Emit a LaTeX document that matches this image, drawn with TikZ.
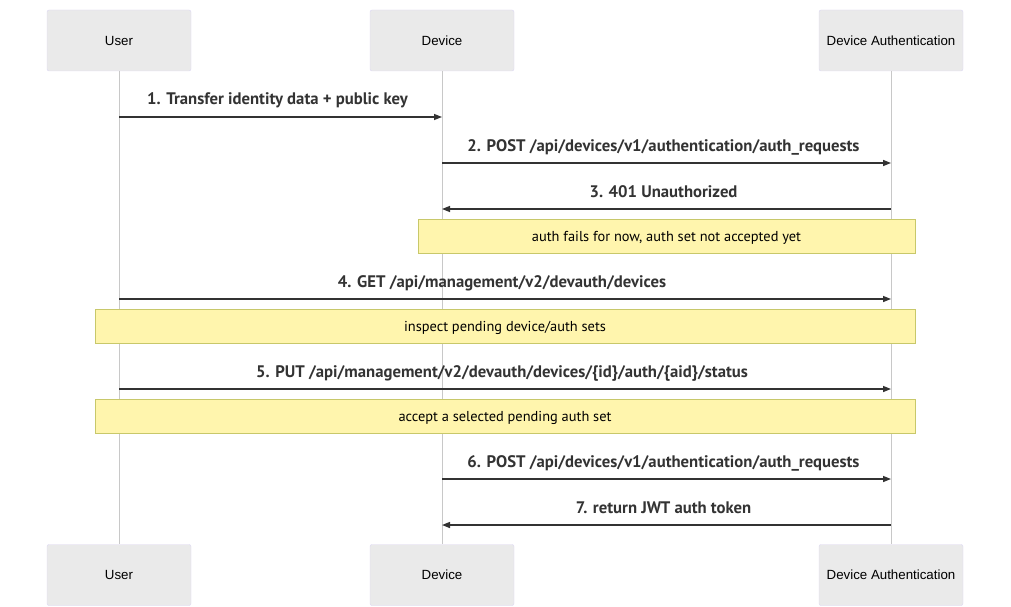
\documentclass[tikz,border=0pt]{standalone}
\usepackage{fontspec}
\setmainfont{Liberation Sans}
\newfontfamily\msgfont{PT Sans}
\usetikzlibrary{arrows.meta}
\definecolor{actfill}{HTML}{EAEAEA}
\definecolor{actdraw}{HTML}{DCD6F2}
\definecolor{lifec}{HTML}{C8C8C8}
\definecolor{notefill}{HTML}{FFF5AD}
\definecolor{notedraw}{HTML}{C8C86A}
\definecolor{msgc}{HTML}{333333}
\tikzset{
  actor/.style={draw=actdraw, fill=actfill, rounded corners=2pt, minimum width=144pt, minimum height=61pt, inner sep=0pt, font=\fontsize{13.3}{15}\selectfont},
  lifeline/.style={draw=lifec, line width=0.8pt},
  msg/.style={draw=msgc, line width=1.4pt, -{Triangle[length=8pt,width=6pt]}},
  msglabel/.style={font=\msgfont\bfseries\fontsize{16.7}{18}\selectfont, text=msgc, inner sep=0pt, anchor=base, yshift=12pt, xshift=-3pt},
  notebox/.style={draw=notedraw, fill=notefill, inner sep=0pt, text height=11pt, text depth=1pt, font=\msgfont\fontsize{14.4}{16}\selectfont, text=black},
}
\begin{document}
\begin{tikzpicture}[x=1pt,y=-1pt]
\useasboundingbox (0,0) rectangle (1011,607);
% actors
\node[actor] (uT) at (119,40.5) {User};
\node[actor] (dT) at (442,40.5) {Device};
\node[actor] (aT) at (891,40.5) {Device Authentication};
\node[actor] (uB) at (119,575) {User};
\node[actor] (dB) at (442,575) {Device};
\node[actor] (aB) at (891,575) {Device Authentication};
% lifelines
\draw[lifeline] (uT.south) -- (uB.north);
\draw[lifeline] (dT.south) -- (dB.north);
\draw[lifeline] (aT.south) -- (aB.north);
% message anchors
\foreach \n/\y in {1/117,2/163,3/209,4/299,5/389,6/479,7/525}{
  \coordinate (u\n) at (119,\y);
  \coordinate (d\n) at (442,\y);
  \coordinate (a\n) at (891,\y);
}
% notes
\node[notebox, minimum width=497pt, minimum height=34pt] (n1) at (666.5,236) {auth fails for now, auth set not accepted yet};
\node[notebox, minimum width=820pt, minimum height=34pt] (n2) at (505,326) {inspect pending device/auth sets};
\node[notebox, minimum width=820pt, minimum height=34pt] (n3) at (505,416) {accept a selected pending auth set};
% messages
\draw[msg] (u1) -- node[msglabel] {1. Transfer identity data + public key} (d1);
\draw[msg] (d2) -- node[msglabel] {2. POST /api/devices/v1/authentication/auth\_requests} (a2);
\draw[msg] (a3) -- node[msglabel] {3. 401 Unauthorized} (d3);
\draw[msg] (u4) -- node[msglabel] {4. GET /api/management/v2/devauth/devices} (a4);
\draw[msg] (u5) -- node[msglabel] {5. PUT /api/management/v2/devauth/devices/\{id\}/auth/\{aid\}/status} (a5);
\draw[msg] (d6) -- node[msglabel] {6. POST /api/devices/v1/authentication/auth\_requests} (a6);
\draw[msg] (a7) -- node[msglabel] {7. return JWT auth token} (d7);
\end{tikzpicture}
\end{document}
